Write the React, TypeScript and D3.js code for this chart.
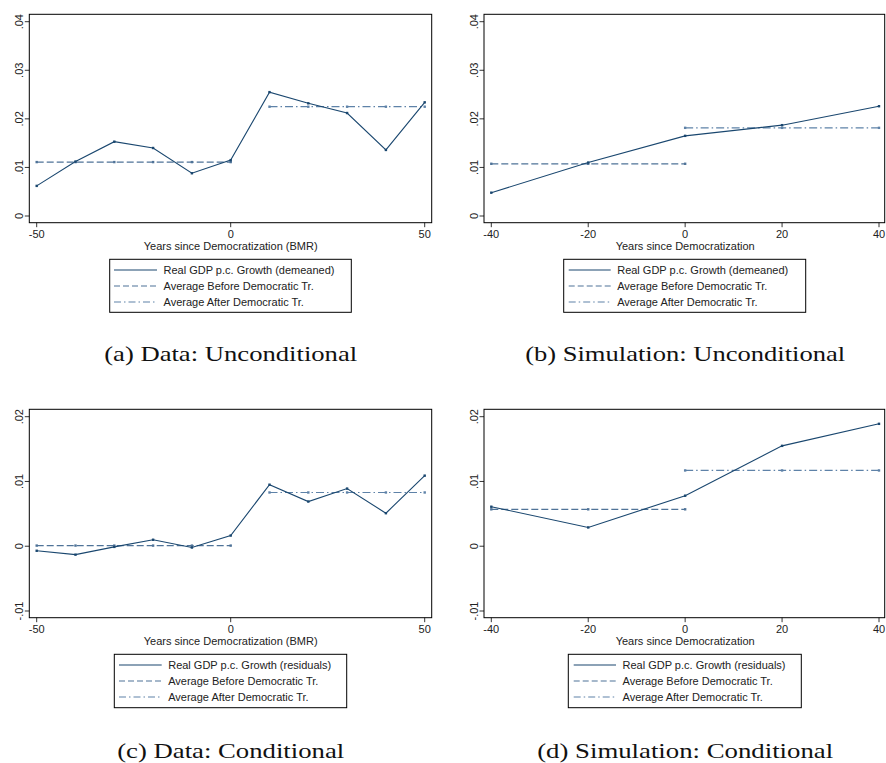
import React from "react";
import * as d3 from "d3";

// ---------- DATA ----------
const yearsData = [-50, -40, -30, -20, -10, 0, 10, 20, 30, 40, 50];
const yearsSim = [-40, -20, 0, 20, 40];

const growthDataUncond = [0.0062, 0.0112, 0.0153, 0.0140, 0.0088, 0.0115, 0.0255, 0.0232, 0.0212, 0.0136, 0.0234];
const beforeDataUncond = 0.0111;
const afterDataUncond = 0.0225;

const growthSimUncond = [0.0048, 0.0110, 0.0165, 0.0187, 0.0226];
const beforeSimUncond = 0.01075;
const afterSimUncond = 0.01815;

const growthDataCond = [-0.0007, -0.0013, -0.0001, 0.0010, -0.0002, 0.00165, 0.0095, 0.0069, 0.0089, 0.0051, 0.0109];
const beforeDataCond = 0.0001;
const afterDataCond = 0.0083;

const growthSimCond = [0.0061, 0.0029, 0.0078, 0.0155, 0.0189];
const beforeSimCond = 0.0057;
const afterSimCond = 0.0117;

const xTicksData = [-50, 0, 50];
const xTicksSim = [-40, -20, 0, 20, 40];
const yTicksUncond = [0, 0.01, 0.02, 0.03, 0.04];
const yTicksCond = [-0.01, 0, 0.01, 0.02];

const xTitleData = "Years since Democratization (BMR)";
const xTitleSim = "Years since Democratization";
const legendUncond = ["Real GDP p.c. Growth (demeaned)", "Average Before Democratic Tr.", "Average After Democratic Tr."];
const legendCond = ["Real GDP p.c. Growth (residuals)", "Average Before Democratic Tr.", "Average After Democratic Tr."];
const captions = ["(a) Data: Unconditional", "(b) Simulation: Unconditional", "(c) Data: Conditional", "(d) Simulation: Conditional"];

// ---------- STYLE ----------
const C_LINE = "#1a476f";
const C_BEFORE = "#4f7398";
const C_AFTER = "#5e82a8";
const SANS = "'Liberation Sans', Arial, sans-serif";
const SERIF = "'Liberation Serif', 'DejaVu Serif', serif";

const fmtTick = (v: number) => {
  if (v === 0) return "0";
  const s = String(Math.round(v * 100) / 100);
  return s.replace("0.", ".");
};

type PanelProps = {
  frame: [number, number, number, number];
  xDomain: [number, number];
  xRange: [number, number];
  yDomain: [number, number];
  yRange: [number, number];
  xs: number[];
  ys: number[];
  before: number;
  after: number;
  afterStart: number;
  xTicks: number[];
  yTicks: number[];
  xTitle: string;
  legend: string[];
  legendBox: [number, number, number, number];
  legendLine: [number, number];
  caption: string;
  captionY: number;
  captionWidth: number;
};

function Panel(p: PanelProps) {
  const [L, T, R, B] = p.frame;
  const x = d3.scaleLinear().domain(p.xDomain).range(p.xRange);
  const y = d3.scaleLinear().domain(p.yDomain).range(p.yRange);
  const line = d3.line<[number, number]>().x((d) => x(d[0])).y((d) => y(d[1]));
  const main: [number, number][] = p.xs.map((v, i) => [v, p.ys[i]]);
  const bXs = p.xs.filter((v) => v <= 0);
  const aXs = p.xs.filter((v) => v >= p.afterStart);
  const bPts: [number, number][] = bXs.map((v) => [v, p.before]);
  const aPts: [number, number][] = aXs.map((v) => [v, p.after]);
  const cx = (p.xRange[0] + p.xRange[1]) / 2;
  const [lx0, ly0, lx1, ly1] = p.legendBox;
  const rows = [
    { dash: undefined, color: C_LINE },
    { dash: "6,3", color: C_BEFORE },
    { dash: "7,3,1.5,3", color: C_AFTER },
  ];
  const sq = (pts: [number, number][], color: string, key: string) =>
    pts.map((d, i) => (
      <rect key={key + i} x={x(d[0]) - 1.2} y={y(d[1]) - 1.2} width={2.4} height={2.4} fill={color} />
    ));
  return (
    <g>
      <rect x={L} y={T} width={R - L} height={B - T} fill="white" stroke="#000" strokeWidth={1} />
      {/* y ticks */}
      {p.yTicks.map((t) => (
        <g key={"y" + t}>
          <line x1={L - 4.5} x2={L} y1={y(t)} y2={y(t)} stroke="#000" strokeWidth={0.8} />
          <text
            transform={`translate(${L - 6},${y(t)}) rotate(-90)`}
            textAnchor="middle"
            fontFamily={SANS}
            fontSize={11}
            fill="#222"
          >
            {fmtTick(t)}
          </text>
        </g>
      ))}
      {/* x ticks */}
      {p.xTicks.map((t) => (
        <g key={"x" + t}>
          <line x1={x(t)} x2={x(t)} y1={B} y2={B + 4.5} stroke="#000" strokeWidth={0.8} />
          <text x={x(t)} y={B + 15.5} textAnchor="middle" fontFamily={SANS} fontSize={11} fill="#222">
            {t}
          </text>
        </g>
      ))}
      <text x={cx} y={B + 27} textAnchor="middle" fontFamily={SANS} fontSize={11} fill="#222">
        {p.xTitle}
      </text>
      {/* series */}
      <path d={line(bPts) || ""} fill="none" stroke={C_BEFORE} strokeWidth={1.2} strokeDasharray="7,3" />
      <path d={line(aPts) || ""} fill="none" stroke={C_AFTER} strokeWidth={1.2} strokeDasharray="8,3,1.5,3" />
      <path d={line(main) || ""} fill="none" stroke={C_LINE} strokeWidth={1.1} />
      {sq(bPts, C_BEFORE, "b")}
      {sq(aPts, C_AFTER, "a")}
      {sq(main, C_LINE, "m")}
      {/* legend */}
      <rect x={lx0} y={ly0} width={lx1 - lx0} height={ly1 - ly0} fill="white" stroke="#000" strokeWidth={1} />
      {p.legend.map((s, i) => {
        const ry = ly0 + 10.7 + i * 16;
        return (
          <g key={"l" + i}>
            <line
              x1={p.legendLine[0]}
              x2={p.legendLine[1]}
              y1={ry}
              y2={ry}
              stroke={rows[i].color}
              strokeWidth={1.1}
              strokeDasharray={rows[i].dash}
            />
            <text x={p.legendLine[1] + 6.5} y={ry + 4} fontFamily={SANS} fontSize={11} fill="#222">
              {s}
            </text>
          </g>
        );
      })}
      <text
        x={cx}
        y={p.captionY}
        textAnchor="middle"
        fontFamily={SERIF}
        fontSize={22}
        fill="#111"
        textLength={p.captionWidth}
        lengthAdjust="spacingAndGlyphs"
      >
        {p.caption}
      </text>
    </g>
  );
}

export default function App() {
  return (
    <svg width={886} height={763} style={{ position: "absolute", left: 0, top: 0, background: "white" }}>
      <rect x={0} y={0} width={886} height={763} fill="white" />
      <Panel
        frame={[29.3, 14.3, 431.7, 222.7]}
        xDomain={[-50, 50]}
        xRange={[36.7, 424.7]}
        yDomain={[0, 0.04]}
        yRange={[216, 21.7]}
        xs={yearsData}
        ys={growthDataUncond}
        before={beforeDataUncond}
        after={afterDataUncond}
        afterStart={10}
        xTicks={xTicksData}
        yTicks={yTicksUncond}
        xTitle={xTitleData}
        legend={legendUncond}
        legendBox={[109.7, 259.3, 351.3, 312.3]}
        legendLine={[114, 157]}
        caption={captions[0]}
        captionY={361}
        captionWidth={253}
      />
      <Panel
        frame={[484, 14.3, 884.7, 222.7]}
        xDomain={[-40, 40]}
        xRange={[491.3, 879]}
        yDomain={[0, 0.04]}
        yRange={[216, 21.7]}
        xs={yearsSim}
        ys={growthSimUncond}
        before={beforeSimUncond}
        after={afterSimUncond}
        afterStart={0}
        xTicks={xTicksSim}
        yTicks={yTicksUncond}
        xTitle={xTitleSim}
        legend={legendUncond}
        legendBox={[563.7, 259.3, 805.7, 312.3]}
        legendLine={[568.7, 610.7]}
        caption={captions[1]}
        captionY={361}
        captionWidth={320}
      />
      <Panel
        frame={[29.3, 409.3, 431.7, 617.7]}
        xDomain={[-50, 50]}
        xRange={[36.7, 424.7]}
        yDomain={[-0.01, 0.02]}
        yRange={[611, 416.7]}
        xs={yearsData}
        ys={growthDataCond}
        before={beforeDataCond}
        after={afterDataCond}
        afterStart={10}
        xTicks={xTicksData}
        yTicks={yTicksCond}
        xTitle={xTitleData}
        legend={legendCond}
        legendBox={[114.3, 654.3, 346.7, 707.7]}
        legendLine={[119, 161.7]}
        caption={captions[2]}
        captionY={758}
        captionWidth={227}
      />
      <Panel
        frame={[484, 409.3, 884.7, 617.7]}
        xDomain={[-40, 40]}
        xRange={[491.3, 879]}
        yDomain={[-0.01, 0.02]}
        yRange={[611, 416.7]}
        xs={yearsSim}
        ys={growthSimCond}
        before={beforeSimCond}
        after={afterSimCond}
        afterStart={0}
        xTicks={xTicksSim}
        yTicks={yTicksCond}
        xTitle={xTitleSim}
        legend={legendCond}
        legendBox={[568.3, 654.3, 801.3, 707.7]}
        legendLine={[573.7, 616]}
        caption={captions[3]}
        captionY={758}
        captionWidth={296}
      />
    </svg>
  );
}
